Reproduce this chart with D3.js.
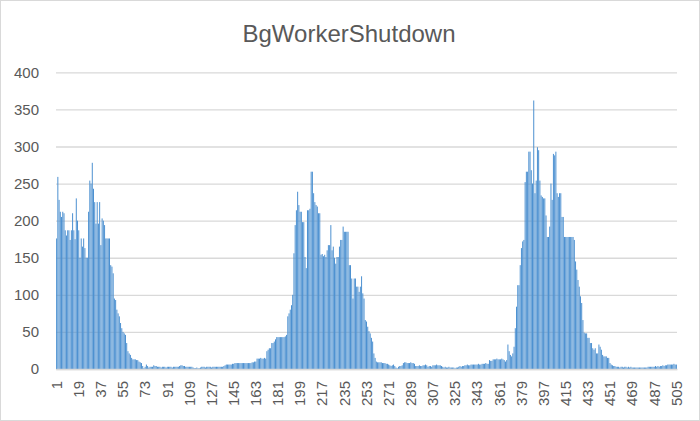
<!DOCTYPE html>
<html>
<head>
<meta charset="utf-8">
<script src="https://cdn.jsdelivr.net/npm/d3@7"></script>
<style>
  body { margin: 0; background: #fff; }
  .ChartHeading { font-family: "Liberation Sans", Arial, sans-serif; font-size: 24px; fill: #595959; }
  .AxisStyle text { font-family: "Liberation Sans", Arial, sans-serif; font-size: 15px; fill: #595959; }
</style>
</head>
<body>
<div id="chart"></div>
<script>

// ------ Data ---------------//
// counts per run in pieces (runs 1..505)
var firstHump = [176,259,228,212,205,212,210,187,180,187,187,174,187,210,187,175,230,200,187,150,
                 176,165,176,163,150,150,212,254,250,278,243,225,196,225,196,225,167,203,200,194,
                 176,176,176,176,140,138,129,95,93,80,75,71,62,55,50,48,46,35,24,21,
                 19,15,13,13,13,12,12,10,9,8,4,1,3,6,4,2,3,3];
var firstGap = [3,5,4,4,3,
                3,3,2,3,3,3,2,3,3,3,3,2,3,3,3,3,3,
                4,5,5,4,4,3,
                3,3,3,3,3,
                2,1,1,2,1,1,2,
                3,3,3,2,3,3,3,3,2,3,3,3,3,3,3,3,3,
                3,4,5,
                6,6,6,6,6,7,7,
                8,8,8,8,8,8,8,8,8,8,8,8,8,8,9,9,
                10,10,
                14,14,14,15,14,14,15,14,
                24,26,28,28,35,35,37,40,43,43,43,43,43,43];
var secondHump = [43,44,46,71,75,80,86,100,156,194,
                  214,239,221,212,212,198,198,151,136,214,
                  214,216,266,266,237,225,221,219,210,210,
                  154,155,152,154,151,160,167,167,194,160,
                  165,150,142,151,151,165,174,174,192,185,
                  185,185,185,140,140,122,95,122,122,111,
                  111,104,111,125,102,95,66,64,57,51,
                  48,42,37,21,15,10,9,9,9,9,
                  8,8,8,7,7,6,5,4,5,6,
                  4,2,1,3,4];
var secondGap = [4,5,
                 8,9,9,8,8,8,9,8,8,7,
                 4,4,4,5,4,4,
                 5,5,6,5,
                 3,4,4,3,
                 5,5,5,6,5,5,5,4,
                 3,2,3,2,2,3,2,2,
                 2,2,1,2,2,
                 3,4,3,4,4,
                 5,5,6,5,5,
                 6,6,6,6,6,6,7,6,6,
                 7,7,7,8,7,7,
                 12,11,11,
                 13,13,13,14,13,13,13,14,13,12];
var thirdHump = [10,12,33,24,19,17,21,30,55,84,
                 113,113,140,163,172,174,252,266,266,293,
                 293,268,250,362,237,254,299,295,254,234,
                 232,230,230,207,178,178,192,250,228,290,
                 288,293,237,232,237,237,205,205,178,178,
                 178,178,178,178,178,178,174,145,134,120,
                 111,98,89,66,49,48,48,42,42,35,
                 35,28,26,28,21,21,33,30,26,19,
                 17,17,17,15,15,8,6,5];
var tail = [4,4,3,3,
            3,2,3,3,2,3,3,2,3,2,3,2,2,
            2,2,2,2,2,2,2,2,2,2,2,
            3,3,3,3,3,
            3,4,3,4,3,4,
            4,5,4,5,5,
            6,6,6,6,6,7,6,6];

var values = firstHump.concat(firstGap, secondHump, secondGap, thirdHump, tail);
var categories = d3.range(1, values.length + 1);
var xTickLabels = [1,19,37,55,73,91,109,127,145,163,181,199,217,235,253,271,289,307,325,343,361,379,397,415,433,451,469,487,505];
var yTicks = [0,50,100,150,200,250,300,350,400];

var data = categories.map(function(c, i){ return {run: c, count: values[i]}; });

// ------ Preliminaries ---------------//
{
var width = 700, height = 421;

var svg = d3.select("#chart").append("svg")
              .attr("width", width)
              .attr("height", height);

// background + thin grey frame like the Excel chart area
svg.append("rect")
      .attr("x", 0.5).attr("y", 0.5)
      .attr("width", width - 1).attr("height", height - 1)
      .attr("fill", "#ffffff")
      .attr("stroke", "#D9D9D9");

var plot = ({ left: 56, right: 677, top: 72.3, bottom: 369 });
}

// ------ Scales ---------------//
{
  var x = d3.scaleBand()
    .domain(categories)
    .range([plot.left, plot.right])
    .paddingInner(0.2)
    .paddingOuter(0.1);

  var y = d3.scaleLinear()
    .domain([0, 400])
    .range([plot.bottom, plot.top]);
}

// ------ Gridlines + y axis ---------------//
{
var yAxis = g => g
    .attr("transform", `translate(${plot.left},0)`)
    .call(d3.axisLeft(y)
      .tickValues(yTicks)
      .tickSize(-(plot.right - plot.left))
      .tickPadding(17)
    )
    .call(g => g.select(".domain").remove())
    .call(g => g.selectAll(".tick line").attr("stroke", "#D9D9D9").attr("stroke-width", 1.3));

svg.append("g").attr("class", "AxisStyle")
      .call(yAxis);
}

// ------ Bars ---------------//
{
  svg.append("g")
    .selectAll("rect")
    .data(data)
    .join("rect")
      .attr("x", d => x(d.run))
      .attr("width", x.bandwidth())
      .attr("y", d => y(d.count))
      .attr("height", d => y(0) - y(d.count))
      .attr("fill", "#4A8FD0");
}

// ------ x axis ---------------//
{
var xAxis = g => g
  .attr("transform", `translate(0,${plot.bottom})`)
  .call(d3.axisBottom(x)
    .tickValues(xTickLabels)
    .tickSize(0)
  )
  .call(g => g.select(".domain").attr("stroke", "#D9D9D9").attr("stroke-width", 1.3))
  .call(g => g.selectAll(".tick text")
      .attr("transform", "rotate(-90)")
      .attr("text-anchor", "end")
      .attr("x", -12)
      .attr("y", 0)
      .attr("dy", "0.35em"));

svg.append("g").attr("class", "AxisStyle")
      .call(xAxis);
}

// ------ Title ---------------//
{
  svg.append("text")
      .attr("class", "ChartHeading")
      .attr("x", 349)
      .attr("y", 41.5)
      .attr("text-anchor", "middle")
      .text("BgWorkerShutdown");
}

</script>
</body>
</html>
